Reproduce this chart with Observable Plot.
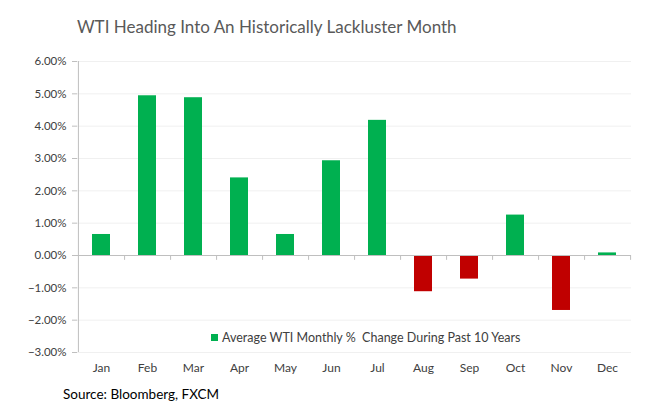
<!DOCTYPE html>
<html>
<head>
<meta charset="utf-8">
<script src="https://cdn.jsdelivr.net/npm/d3@7"></script>
<script src="https://cdn.jsdelivr.net/npm/@observablehq/plot@0.6"></script>
<style>
  html, body { margin: 0; padding: 0; background: #fff; }
  #wrap { position: relative; width: 661px; height: 410px; font-family: Lato, "Open Sans", sans-serif; }
  #title { position: absolute; left: 77px; top: 16px; font-size: 17px; color: #595959; white-space: nowrap; }
  #chart { position: absolute; left: 0; top: 45px; }
  #legend { position: absolute; left: 211px; top: 330px; font-size: 12.5px; color: #404040; white-space: nowrap; display: flex; align-items: center; }
  #legend .sw { width: 7px; height: 7px; background: #00b050; margin-right: 4px; }
  #source { position: absolute; left: 63px; top: 386px; font-size: 13.5px; color: #000; white-space: nowrap; }
</style>
</head>
<body>
<div id="wrap">
  <div id="title">WTI Heading Into An Historically Lackluster Month</div>
  <div id="chart"></div>
  <div id="legend"><span class="sw"></span><span>Average WTI Monthly %&nbsp; Change During Past 10 Years</span></div>
  <div id="source">Source: Bloomberg, FXCM</div>
</div>
<script>
const months = ["Jan","Feb","Mar","Apr","May","Jun","Jul","Aug","Sep","Oct","Nov","Dec"];
const values = [0.0065, 0.0494, 0.0488, 0.0240, 0.0065, 0.0293, 0.0418, -0.0112, -0.0073, 0.0125, -0.0170, 0.0008];
const yTicks = [-0.03, -0.02, -0.01, 0, 0.01, 0.02, 0.03, 0.04, 0.05, 0.06];

const data = months.map((m, i) => ({month: m, value: values[i]}));

const W = 661, H = 335, ML = 77, MR = 30, MT = 16, MB = 28;
const step = (W - ML - MR) / months.length;
const green = "#00b050", red = "#c00000", axisGray = "#bfbfbf";

const plot = Plot.plot({
  width: W,
  height: H,
  marginLeft: ML,
  marginRight: MR,
  marginTop: MT,
  marginBottom: MB,
  style: {fontFamily: "Lato, 'Open Sans', sans-serif", fontSize: "11.5px", background: "#fff"},
  x: {domain: months, paddingInner: 0.6, paddingOuter: 0.3, label: null},
  y: {domain: [-0.03, 0.06], label: null},
  color: {type: "identity"},
  marks: [
    Plot.ruleY(yTicks.filter(t => t !== 0), {stroke: "#f0f0f0"}),
    Plot.ruleX(["Jan"], {dx: -step / 2, stroke: axisGray}),
    Plot.axisY({ticks: yTicks, tickFormat: d3.format(".2%"), tickSize: 5, tickPadding: 6, stroke: axisGray, fill: "#404040", label: null}),
    Plot.axisX({tickSize: 0, tickPadding: 11, fill: "#404040", fontSize: 12, label: null}),
    Plot.barY(data, {x: "month", y: "value", fill: d => d.value >= 0 ? green : red}),
    Plot.ruleY([0], {stroke: axisGray}),
    Plot.ruleX(months, {y1: 0, y2: -0.0015, dx: step / 2, stroke: axisGray})
  ]
});
document.getElementById("chart").appendChild(plot);
</script>
</body>
</html>
